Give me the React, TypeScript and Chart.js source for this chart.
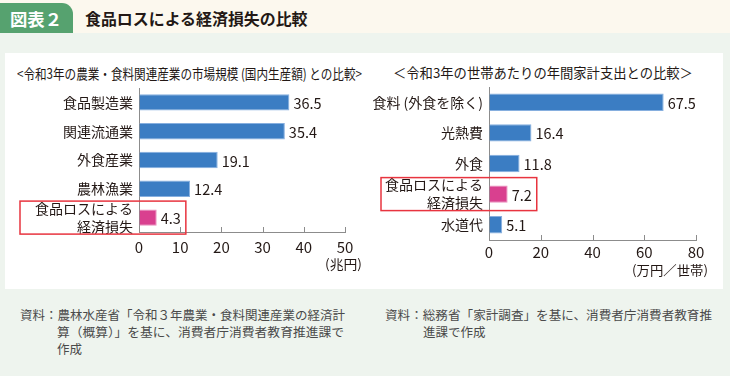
import React, { useEffect, useRef } from "react";
import { Chart, registerables } from "chart.js";

Chart.register(...registerables);

const FONT = '"Noto Sans CJK JP", "Noto Sans", sans-serif';

// ---- data ----
const industryCategories: (string | string[])[] = ["食品製造業", "関連流通業", "外食産業", "農林漁業", ["食品ロスによる", "経済損失"]];
const industryValues = [36.5, 35.4, 19.1, 12.4, 4.3];
const industryTicks = [0, 10, 20, 30, 40, 50];
const industryHighlightIndex = 4;

const householdCategories: (string | string[])[] = ["食料 (外食を除く)", "光熱費", "外食", ["食品ロスによる", "経済損失"], "水道代"];
const householdValues = [67.5, 16.4, 11.8, 7.2, 5.1];
const householdTicks = [0, 20, 40, 60, 80];
const householdHighlightIndex = 3;

const BLUE = "#3b7dc3";
const BLUE_BORDER = "#86afdf";
const PINK = "#d9408f";
const PINK_BORDER = "#ea8fbd";

const decorPlugin = {
  id: "decor",
  afterDatasetsDraw(chart: any, _args: any, opts: any) {
    const ctx = chart.ctx;
    const xs = chart.scales.x;
    const ys = chart.scales.y;
    const data = chart.data.datasets[0].data as number[];
    const area = chart.chartArea;
    ctx.save();
    ctx.strokeStyle = "#8c8c8c";
    ctx.lineWidth = 1;
    xs.ticks.forEach((t: any) => {
      if (t.value === xs.min) return;
      const px = Math.round(xs.getPixelForValue(t.value)) + 0.5;
      ctx.beginPath();
      ctx.moveTo(px, area.bottom);
      ctx.lineTo(px, area.bottom - 5);
      ctx.stroke();
    });
    ctx.font = `14.5px ${FONT}`;
    ctx.fillStyle = "#231815";
    ctx.textBaseline = "middle";
    ctx.textAlign = "left";
    let hiRight = 0;
    data.forEach((v, i) => {
      const px = xs.getPixelForValue(v);
      const py = ys.getPixelForValue(i);
      const txt = v.toFixed(1);
      ctx.fillText(txt, px + 4, py + 1);
      if (i === opts.highlight) hiRight = px + 4 + ctx.measureText(txt).width;
    });
    if (opts.highlight != null) {
      const cy = ys.getPixelForValue(opts.highlight);
      ctx.strokeStyle = "#e8343f";
      ctx.lineWidth = 1.5;
      ctx.strokeRect(opts.boxLeft, cy - 16.5, hiRight + 5 - opts.boxLeft, 33);
    }
    ctx.restore();
  },
};

function makeChart(
  canvas: HTMLCanvasElement,
  cats: (string | string[])[],
  vals: number[],
  ticks: number[],
  hi: number,
  axisWidth: number,
  padTop: number,
  padRight: number,
  barPct: number,
  boxLeft: number,
  tickPad: number
) {
  const colors = vals.map((_, i) => (i === hi ? PINK : BLUE));
  const borders = vals.map((_, i) => (i === hi ? PINK_BORDER : BLUE_BORDER));
  return new Chart(canvas, {
    type: "bar",
    data: {
      labels: cats,
      datasets: [
        {
          data: vals,
          backgroundColor: colors,
          borderColor: borders,
          borderWidth: 1,
          categoryPercentage: 1,
          barPercentage: barPct,
        },
      ],
    },
    options: {
      indexAxis: "y",
      responsive: false,
      animation: false,
      devicePixelRatio: 1,
      layout: { padding: { top: padTop, right: padRight, left: 0, bottom: 0 } },
      plugins: {
        legend: { display: false },
        tooltip: { enabled: false },
        decor: { highlight: hi, boxLeft },
      } as any,
      scales: {
        x: {
          type: "linear",
          min: ticks[0],
          max: ticks[ticks.length - 1],
          afterBuildTicks: (s: any) => {
            s.ticks = ticks.map((v) => ({ value: v }));
          },
          afterFit: (s: any) => {
            s.height = 40;
            s.paddingLeft = 0;
            s.paddingRight = 0;
          },
          grid: { display: true, drawOnChartArea: false, drawTicks: false },
          border: { display: true, color: "#8c8c8c", width: 1 },
          ticks: {
            color: "#231815",
            font: { size: 15, family: FONT },
            padding: tickPad,
            maxRotation: 0,
            autoSkip: false,
          },
        },
        y: {
          type: "category",
          afterFit: (s: any) => {
            s.width = axisWidth;
            s.paddingTop = 0;
            s.paddingBottom = 0;
          },
          grid: { display: true, drawOnChartArea: false, drawTicks: false },
          border: { display: true, color: "#8c8c8c", width: 1 },
          ticks: {
            color: "#231815",
            font: { size: 14, family: FONT, lineHeight: 1.28 },
            padding: 6,
            autoSkip: false,
          },
        },
      },
    },
    plugins: [decorPlugin],
  });
}

let measureCtx: CanvasRenderingContext2D | null = null;
function measure(text: string, size: number, weight: number) {
  if (!measureCtx) measureCtx = document.createElement("canvas").getContext("2d");
  measureCtx!.font = `${weight} ${size}px ${FONT}`;
  return measureCtx!.measureText(text).width;
}

function FitText(props: {
  text: string;
  left: number;
  top: number;
  width?: number;
  size: number;
  color?: string;
  weight?: number;
}) {
  const weight = props.weight || 400;
  const natural = measure(props.text, props.size, weight);
  const scale = props.width && natural > 0 ? props.width / natural : 1;
  return (
    <span
      style={{
        position: "absolute",
        left: props.left,
        top: props.top,
        fontSize: props.size,
        lineHeight: "1",
        whiteSpace: "nowrap",
        color: props.color || "#231815",
        fontWeight: weight,
        transform: `scaleX(${scale})`,
        transformOrigin: "0 0",
        fontFamily: FONT,
      }}
    >
      {props.text}
    </span>
  );
}

export default function App() {
  const c1 = useRef<HTMLCanvasElement>(null);
  const c2 = useRef<HTMLCanvasElement>(null);

  useEffect(() => {
    document.body.style.margin = "0";
    Chart.defaults.font.family = FONT;
    const ch1 = makeChart(c1.current!, industryCategories, industryValues, industryTicks, industryHighlightIndex, 139, 8, 20, 0.57, 20, 6);
    const ch2 = makeChart(c2.current!, householdCategories, householdValues, householdTicks, householdHighlightIndex, 124, 7, 34, 0.57, 16, 3);
    return () => {
      ch1.destroy();
      ch2.destroy();
    };
  }, []);

  return (
    <div
      style={{
        position: "absolute",
        left: 0,
        top: 0,
        width: 730,
        height: 376,
        background: "#eef4ee",
        overflow: "hidden",
        fontFamily: FONT,
      }}
    >
      <div style={{ position: "absolute", left: 0, top: 0, width: 730, height: 33, background: "#fcf8ee" }} />
      <div
        style={{
          position: "absolute",
          left: 0,
          top: 3,
          width: 73,
          height: 30,
          background: "#56a26f",
          borderTopRightRadius: 11,
        }}
      />
      <FitText text="図表２" left={10} top={10} size={17} color="#ffffff" weight={700} width={52} />
      <FitText text="食品ロスによる経済損失の比較" left={85} top={10} size={16} color="#231815" weight={700} width={223} />

      <div style={{ position: "absolute", left: 5, top: 53, width: 718, height: 236, background: "#ffffff" }} />

      <FitText text="<令和3年の農業・食料関連産業の市場規模 (国内生産額) との比較>" left={17} top={66} size={14} width={345} />
      <FitText text="＜令和3年の世帯あたりの年間家計支出との比較＞" left={393} top={66} size={13.5} width={300} />

      <canvas ref={c1} width={365} height={192} style={{ position: "absolute", left: 0, top: 80 }} />
      <canvas ref={c2} width={365} height={200} style={{ position: "absolute", left: 365, top: 80 }} />

      <FitText text="(兆円)" left={325} top={257} size={13} width={37} />
      <FitText text="(万円／世帯)" left={632} top={263} size={13} width={76} />

      <FitText text="資料：農林水産省「令和３年農業・食料関連産業の経済計" left={20} top={309} size={12.5} color="#4a4a4a" width={325} />
      <FitText text="算（概算）」を基に、消費者庁消費者教育推進課で" left={57} top={326} size={12.5} color="#4a4a4a" width={287} />
      <FitText text="作成" left={57} top={343} size={12.5} color="#4a4a4a" />
      <FitText text="資料：総務省「家計調査」を基に、消費者庁消費者教育推" left={385} top={309} size={12.5} color="#4a4a4a" width={327} />
      <FitText text="進課で作成" left={423} top={326} size={12.5} color="#4a4a4a" />
    </div>
  );
}
